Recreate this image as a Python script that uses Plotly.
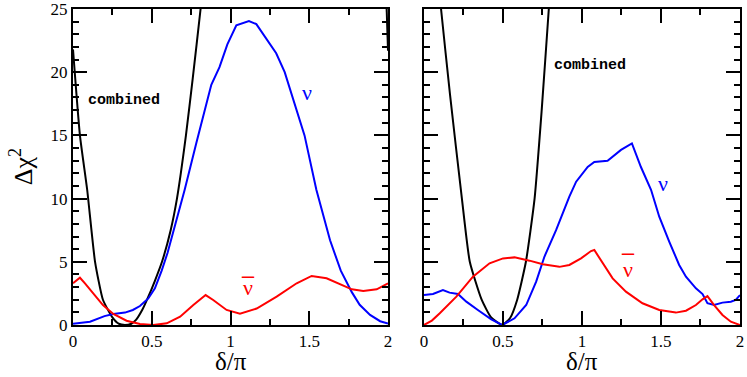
import plotly.graph_objects as go

# left panel
x_l_comb = [0, 0.044, 0.09, 0.14, 0.19, 0.25, 0.29, 0.33, 0.37, 0.40, 0.44, 0.47, 0.52, 0.565,
            0.62, 0.66, 0.717, 0.76, 0.81, 0.83, None, 1.99, 2.0]
y_l_comb = [21.8, 15, 10.7, 5, 2, 0.6, 0.1, 0, 0.1, 0.4, 1.2, 2, 3.5, 5,
            7.5, 10, 15, 19.5, 25, 27.5, None, 25.5, 21.7]

x_l_nu = [0, 0.108, 0.2, 0.256, 0.33, 0.38, 0.425, 0.478, 0.52, 0.563, 0.6, 0.65, 0.709, 0.783,
          0.878, 0.93, 0.98, 1.037, 1.117, 1.164, 1.238, 1.29, 1.344, 1.407, 1.47, 1.545,
          1.632, 1.70, 1.77, 1.82, 1.886, 1.95, 2.0]
y_l_nu = [0.1, 0.26, 0.7, 0.87, 0.98, 1.19, 1.5, 2.1, 2.9, 4.3, 5.7, 7.9, 10.7, 14.4,
          19.0, 20.4, 22.2, 23.7, 24.05, 23.8, 22.5, 21.5, 20.0, 17.5, 15.0, 10.7,
          6.7, 4.3, 2.6, 1.6, 0.8, 0.3, 0.12]

x_l_nubar = [0, 0.044, 0.076, 0.129, 0.19, 0.256, 0.34, 0.425, 0.51, 0.595, 0.68, 0.764, 0.842,
             0.89, 0.975, 1.06, 1.166, 1.293, 1.42, 1.515, 1.61, 1.77, 1.843, 1.928, 2.0]
y_l_nubar = [3.3, 3.74, 3.3, 2.5, 1.58, 0.87, 0.34, 0.08, 0.0, 0.13, 0.66, 1.58, 2.37,
             1.98, 1.19, 0.9, 1.3, 2.24, 3.3, 3.88, 3.7, 2.82, 2.69, 2.82, 3.3]

# right panel
x_r_comb = [0.095, 0.108, 0.165, 0.24, 0.29, 0.365, 0.425, 0.495, 0.545, 0.59, 0.645, 0.70,
            0.745, 0.79, 0.80]
y_r_comb = [26.7, 25, 18.2, 10, 5, 2, 0.6, 0, 0.55, 2, 5, 10, 17, 25, 26.7]

x_r_nu = [0, 0.057, 0.12, 0.162, 0.215, 0.268, 0.341, 0.426, 0.495, 0.573, 0.647, 0.71, 0.762,
          0.836, 0.92, 0.963, 1.036, 1.078, 1.162, 1.247, 1.316, 1.373, 1.437, 1.489, 1.552,
          1.615, 1.658, 1.721, 1.763, 1.794, 1.836, 1.889, 1.942, 1.973, 2.0]
y_r_nu = [2.37, 2.45, 2.77, 2.56, 2.45, 1.85, 1.19, 0.45, 0, 0.53, 1.58, 3.43, 5.4,
          7.5, 10.15, 11.34, 12.5, 12.9, 13.0, 13.85, 14.37, 12.5, 10.7, 8.57, 6.6,
          4.75, 3.82, 2.9, 2.45, 1.72, 1.58, 1.77, 1.84, 1.98, 2.37]

x_r_nubar = [0, 0.05, 0.1, 0.205, 0.31, 0.415, 0.5, 0.573, 0.668, 0.752, 0.857, 0.92, 0.994,
             1.057, 1.078, 1.131, 1.194, 1.278, 1.383, 1.489, 1.594, 1.658, 1.721, 1.763,
             1.794, 1.836, 1.889, 1.942, 2.0]
y_r_nubar = [0.0, 0.35, 0.93, 2.24, 3.82, 4.88, 5.27, 5.35, 5.09, 4.8, 4.6, 4.75, 5.27,
             5.85, 5.93, 4.88, 3.69, 2.64, 1.72, 1.19, 0.98, 1.13, 1.58, 2.03,
             2.29, 1.58, 0.79, 0.26, 0.0]

fig = go.Figure()
for xa, ya, xs, ys, col, shape in [
    ("x", "y", x_l_comb, y_l_comb, "black", "spline"),
    ("x", "y", x_l_nu, y_l_nu, "blue", "linear"),
    ("x", "y", x_l_nubar, y_l_nubar, "red", "linear"),
    ("x2", "y2", x_r_comb, y_r_comb, "black", "spline"),
    ("x2", "y2", x_r_nu, y_r_nu, "blue", "linear"),
    ("x2", "y2", x_r_nubar, y_r_nubar, "red", "linear"),
]:
    fig.add_trace(go.Scatter(x=xs, y=ys, xaxis=xa, yaxis=ya, mode="lines",
                             line=dict(color=col, width=2, shape=shape, smoothing=0.5),
                             showlegend=False, connectgaps=False))

serif = "Liberation Serif, Times New Roman, serif"
ax = dict(showline=True, linecolor="black", linewidth=2, mirror="ticks",
          ticks="inside", ticklen=14, tickwidth=1.5, tickcolor="black",
          showgrid=False, zeroline=False, ticklabeloverflow="allow",
          tickfont=dict(family=serif, size=17, color="black"))
xax = dict(ax, range=[0, 2], dtick=0.5, tick0=0,
           minor=dict(ticks="inside", ticklen=6, tickwidth=1.5, tickcolor="black", dtick=0.25))
yax = dict(ax, range=[0, 25], dtick=5, tick0=0,
           minor=dict(ticks="inside", ticklen=6, tickwidth=1.5, tickcolor="black", dtick=1))

fig.update_layout(
    width=747, height=377,
    margin=dict(l=73, r=7, t=9, b=52, autoexpand=False),
    plot_bgcolor="white", paper_bgcolor="white",
    xaxis=dict(xax, domain=[0, 0.4723], anchor="y"),
    xaxis2=dict(xax, domain=[0.5262, 1], anchor="y2"),
    yaxis=dict(yax, anchor="x"),
    yaxis2=dict(yax, anchor="x2", showticklabels=False),
)

mono = dict(family="Liberation Mono, Courier New, monospace", size=15, color="black")
greek = dict(family=serif, size=22)
title_font = dict(family=serif, size=25, color="black")
ann = [
    dict(x=0.324, y=17.8, xref="x", yref="y", text="<b>combined</b>", font=mono),
    dict(x=1.05, y=20.5, xref="x2", yref="y2", text="<b>combined</b>", font=mono),
    dict(x=1.486, y=18.4, xref="x", yref="y", text="ν", font=dict(greek, color="blue")),
    dict(x=1.51, y=11.2, xref="x2", yref="y2", text="ν", font=dict(greek, color="blue")),
    dict(x=1.11, y=3.0, xref="x", yref="y", text="ν", font=dict(greek, color="red")),
    dict(x=1.11, y=3.95, xref="x", yref="y", text="<b>–</b>", font=dict(greek, size=24, color="red")),
    dict(x=1.29, y=4.4, xref="x2", yref="y2", text="ν", font=dict(greek, color="red")),
    dict(x=1.29, y=5.75, xref="x2", yref="y2", text="<b>–</b>", font=dict(greek, size=24, color="red")),
    dict(x=0.5, y=-0.163, xref="x domain", yref="paper", text="δ/π", font=title_font,
         yanchor="bottom"),
    dict(x=0.5, y=-0.163, xref="x2 domain", yref="paper", text="δ/π", font=title_font,
         yanchor="bottom"),
    dict(x=-0.0775, y=0.5, xref="paper", yref="paper", text="Δχ<sup>2</sup>", textangle=-90,
         font=dict(family=serif, size=26, color="black")),
]
for a in ann:
    a.setdefault("showarrow", False)
    a.setdefault("xanchor", "center")
    a.setdefault("yanchor", "middle")
fig.update_layout(annotations=ann)

# drop the default 8px body margin so the figure sits at the window's top-left corner
fig.write_html("out.html", config={"displayModeBar": False},
               post_script="document.body.style.margin = '0';")
